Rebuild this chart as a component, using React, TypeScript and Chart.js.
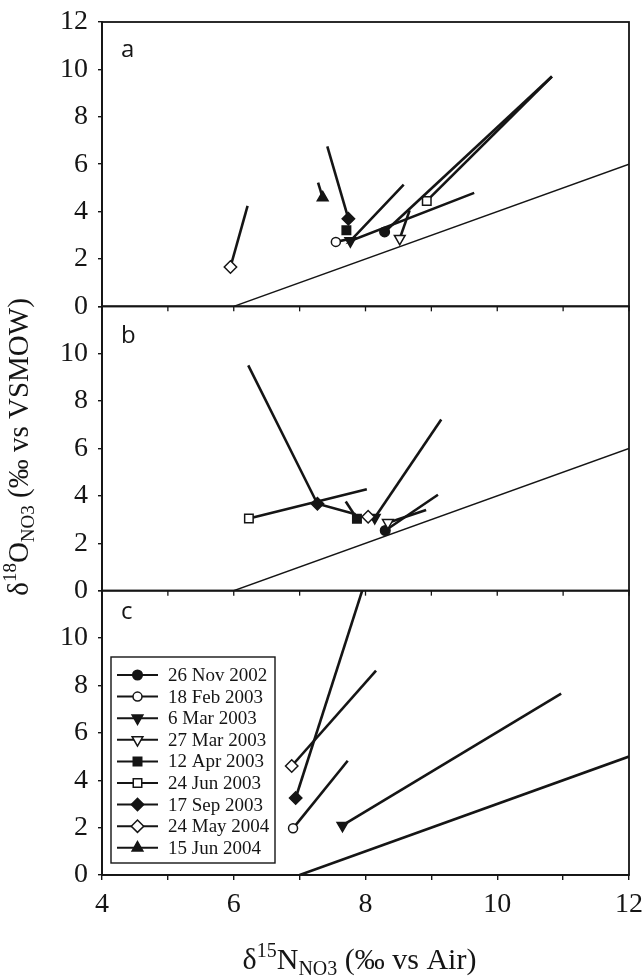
import React, { useEffect, useRef } from "react";
import { Chart, registerables } from "chart.js";
import { drawPoint } from "chart.js/helpers";

Chart.register(...registerables);

// ---------- DATA ----------
const DATES = [
  "26 Nov 2002",
  "18 Feb 2003",
  "6 Mar 2003",
  "27 Mar 2003",
  "12 Apr 2003",
  "24 Jun 2003",
  "17 Sep 2003",
  "24 May 2004",
  "15 Jun 2004",
];

const X_TICKS = [4, 5, 6, 7, 8, 9, 10, 11, 12];
const X_LABELS = [4, 6, 8, 10, 12];
const Y_TICKS = [0, 2, 4, 6, 8, 10, 12];

type Pt = [number, number];
type Traj = { d: number; m: Pt; ends: Pt[] };

// measured point (m) and trajectory end points, per panel
const PANEL_A: Traj[] = [
  { d: 7, m: [5.95, 1.66], ends: [[6.21, 4.24]] },
  { d: 8, m: [7.35, 4.59], ends: [[7.28, 5.22]] },
  { d: 6, m: [7.74, 3.7], ends: [[7.42, 6.75]] },
  { d: 4, m: [7.71, 3.21], ends: [] },
  { d: 1, m: [7.55, 2.72], ends: [[7.72, 2.82]] },
  { d: 2, m: [7.77, 2.76], ends: [[8.58, 5.14], [9.65, 4.79]] },
  { d: 0, m: [8.29, 3.14], ends: [[10.83, 9.7]] },
  { d: 3, m: [8.52, 2.86], ends: [[8.67, 4.05]] },
  { d: 5, m: [8.93, 4.45], ends: [[10.83, 9.7]] },
];
const PANEL_B: Traj[] = [
  { d: 5, m: [6.23, 3.05], ends: [[8.02, 4.28]] },
  { d: 6, m: [7.27, 3.67], ends: [[6.22, 9.51], [7.85, 3.22]] },
  { d: 4, m: [7.87, 3.04], ends: [[7.7, 3.76]] },
  { d: 7, m: [8.04, 3.12], ends: [] },
  { d: 2, m: [8.14, 3.08], ends: [[9.15, 7.22]] },
  { d: 3, m: [8.34, 2.87], ends: [[8.92, 3.4]] },
  { d: 0, m: [8.3, 2.54], ends: [[9.1, 4.05]] },
];
const PANEL_C: Traj[] = [
  { d: 7, m: [6.88, 4.6], ends: [[8.16, 8.63]] },
  { d: 6, m: [6.94, 3.25], ends: [[7.95, 12.0]] },
  { d: 1, m: [6.9, 1.97], ends: [[7.73, 4.82]] },
  { d: 2, m: [7.65, 2.09], ends: [[10.97, 7.65]] },
];

const REF_A: Pt[] = [[6, 0], [12, 6]];
const REF_B: Pt[] = [[6, 0], [12, 6]];
const REF_C: Pt[] = [[7, 0], [12, 5]];

// ---------- STYLES ----------
const INK = "#151515";
const MARKERS = [
  { style: "circle", fill: true, r: 4.8, rot: 0 },
  { style: "circle", fill: false, r: 4.5, rot: 0 },
  { style: "triangle", fill: true, r: 6.2, rot: 180 },
  { style: "triangle", fill: false, r: 6.2, rot: 180 },
  { style: "rect", fill: true, r: 6, rot: 0 },
  { style: "rect", fill: false, r: 6, rot: 0 },
  { style: "rectRot", fill: true, r: 6.2, rot: 0 },
  { style: "rectRot", fill: false, r: 6.2, rot: 0 },
  { style: "triangle", fill: true, r: 6.2, rot: 0 },
];

const SERIF = "'Liberation Serif', 'Times New Roman', serif";
const SANS = "'Open Sans', 'DejaVu Sans', sans-serif";

function trajDatasets(list: Traj[], axis: string) {
  return list.map((t) => {
    const pts: Pt[] =
      t.ends.length === 2 ? [t.ends[0], t.m, t.ends[1]] : t.ends.length === 1 ? [t.m, t.ends[0]] : [t.m];
    const mi = t.ends.length === 2 ? 1 : 0;
    const mk = MARKERS[t.d];
    return {
      label: DATES[t.d],
      yAxisID: axis,
      data: pts.map((p) => ({ x: p[0], y: p[1] })),
      showLine: true,
      borderColor: INK,
      borderWidth: 2.6,
      pointRadius: pts.map((_, i) => (i === mi ? mk.r : 0)),
      pointHoverRadius: pts.map((_, i) => (i === mi ? mk.r : 0)),
      pointStyle: mk.style,
      pointRotation: mk.rot,
      pointBackgroundColor: mk.fill ? INK : "#ffffff",
      pointBorderColor: INK,
      pointBorderWidth: 1.5,
      order: 1,
    };
  });
}

function refDataset(pts: Pt[], axis: string, width: number) {
  return {
    label: "ref",
    yAxisID: axis,
    data: pts.map((p) => ({ x: p[0], y: p[1] })),
    showLine: true,
    borderColor: INK,
    borderWidth: width,
    pointRadius: 0,
    pointHoverRadius: 0,
    order: 5,
  };
}

type Part = { t: string; s: number; dy: number };
function drawRich(ctx: CanvasRenderingContext2D, parts: Part[], cx: number, by: number) {
  const widths = parts.map((p) => {
    ctx.font = `${p.s}px ${SERIF}`;
    return ctx.measureText(p.t).width;
  });
  const total = widths.reduce((a, b) => a + b, 0);
  let x = cx - total / 2;
  ctx.textAlign = "left";
  ctx.textBaseline = "alphabetic";
  parts.forEach((p, i) => {
    ctx.font = `${p.s}px ${SERIF}`;
    ctx.fillText(p.t, x, by + p.dy);
    x += widths[i];
  });
}

const panelPlugin = {
  id: "panels",
  afterDraw(chart: any) {
    const ctx: CanvasRenderingContext2D = chart.ctx;
    const { left, right } = chart.chartArea;
    const axes = ["yA", "yB", "yC"].map((id) => chart.scales[id]);
    const xs = chart.scales.x;
    ctx.save();
    ctx.strokeStyle = INK;
    ctx.lineWidth = 1.8;
    axes.forEach((s: any) => ctx.strokeRect(left, s.top, right - left, s.bottom - s.top));
    // x tick marks below panels a and b
    ctx.lineWidth = 1.3;
    axes.slice(0, 2).forEach((s: any) => {
      X_TICKS.forEach((v) => {
        const px = xs.getPixelForValue(v);
        ctx.beginPath();
        ctx.moveTo(px, s.bottom);
        ctx.lineTo(px, s.bottom + 5);
        ctx.stroke();
      });
    });
    // panel letters
    ctx.fillStyle = INK;
    ctx.font = `24px ${SANS}`;
    ctx.textAlign = "left";
    ctx.textBaseline = "alphabetic";
    const letterOffsets = [35, 37, 28];
    ["a", "b", "c"].forEach((l, i) => ctx.fillText(l, left + 19, axes[i].top + letterOffsets[i]));

    // legend (in panel c)
    const lx = 111,
      ly = 657,
      lw = 164,
      lh = 206;
    ctx.lineWidth = 1.4;
    ctx.strokeRect(lx, ly, lw, lh);
    ctx.font = `19px ${SERIF}`;
    ctx.textBaseline = "middle";
    DATES.forEach((d, i) => {
      const y = ly + 18 + i * 21.6;
      ctx.lineWidth = 2;
      ctx.strokeStyle = INK;
      ctx.beginPath();
      ctx.moveTo(lx + 6, y);
      ctx.lineTo(lx + 47, y);
      ctx.stroke();
      const mk = MARKERS[i];
      ctx.fillStyle = mk.fill ? INK : "#ffffff";
      ctx.strokeStyle = INK;
      ctx.lineWidth = 1.5;
      drawPoint(ctx, { pointStyle: mk.style as any, rotation: mk.rot, radius: mk.r, borderWidth: 1.5 }, lx + 26.5, y);
      ctx.fillStyle = INK;
      ctx.fillText(d, lx + 57, y + 1);
    });

    // axis titles
    ctx.fillStyle = INK;
    drawRich(
      ctx,
      [
        { t: "δ", s: 30, dy: 0 },
        { t: "15", s: 20, dy: -12 },
        { t: "N", s: 30, dy: 0 },
        { t: "NO3", s: 20, dy: 6 },
        { t: " (‰ vs Air)", s: 30, dy: 0 },
      ],
      (left + right) / 2 - 6,
      969
    );
    ctx.translate(28, 447);
    ctx.rotate(-Math.PI / 2);
    drawRich(
      ctx,
      [
        { t: "δ", s: 29, dy: 0 },
        { t: "18", s: 19, dy: -12 },
        { t: "O", s: 29, dy: 0 },
        { t: "NO3", s: 19, dy: 6 },
        { t: " (‰ vs VSMOW)", s: 29, dy: 0 },
      ],
      0,
      0
    );
    ctx.restore();
  },
};

function yAxis(showTop: boolean) {
  return {
    type: "linear",
    position: "left",
    stack: "panels",
    stackWeight: 1,
    min: 0,
    max: 12,
    afterBuildTicks: (s: any) => {
      s.ticks = Y_TICKS.map((v) => ({ value: v }));
    },
    afterFit: (s: any) => {
      s.width = 102;
      s.paddingTop = 0;
      s.paddingBottom = 0;
    },
    ticks: {
      padding: 10,
      color: INK,
      autoSkip: false,
      font: { family: SERIF, size: 28 },
      callback: (v: number) => (v === 12 && !showTop ? "" : String(v)),
    },
    grid: { drawOnChartArea: false, tickLength: 4, color: INK, lineWidth: 1.4 },
    border: { color: INK, width: 1.8 },
  };
}

export default function App() {
  const ref = useRef<HTMLCanvasElement>(null);
  useEffect(() => {
    const datasets: any[] = [
      ...trajDatasets(PANEL_A, "yA"),
      ...trajDatasets(PANEL_B, "yB"),
      ...trajDatasets(PANEL_C, "yC"),
      refDataset(REF_A, "yA", 1.5),
      refDataset(REF_B, "yB", 1.5),
      refDataset(REF_C, "yC", 2.6),
    ];
    const chart = new Chart(ref.current as HTMLCanvasElement, {
      type: "scatter",
      data: { datasets },
      options: {
        animation: false,
        responsive: false,
        maintainAspectRatio: false,
        layout: { padding: { left: 0, right: 15, top: 22, bottom: 41 } },
        plugins: { legend: { display: false }, tooltip: { enabled: false } },
        scales: {
          x: {
            type: "linear",
            position: "bottom",
            min: 4,
            max: 12,
            afterBuildTicks: (s: any) => {
              s.ticks = X_TICKS.map((v) => ({ value: v }));
            },
            afterFit: (s: any) => {
              s.height = 60;
              s.paddingLeft = 0;
              s.paddingRight = 0;
            },
            ticks: {
              padding: 8,
              color: INK,
              autoSkip: false,
              maxRotation: 0,
              font: { family: SERIF, size: 28 },
              callback: (v: number) => (X_LABELS.includes(v) ? String(v) : ""),
            },
            grid: { drawOnChartArea: false, tickLength: 5, color: INK, lineWidth: 1.4 },
            border: { color: INK, width: 1.8 },
          },
          // stacked axes are laid out bottom-up in definition order
          yC: yAxis(false),
          yB: yAxis(false),
          yA: yAxis(true),
        } as any,
      },
      plugins: [panelPlugin],
    } as any);
    return () => chart.destroy();
  }, []);
  return (
    <div style={{ position: "absolute", left: 0, top: 0, width: 644, height: 976, background: "#ffffff" }}>
      <canvas ref={ref} width={644} height={976} style={{ display: "block", width: 644, height: 976 }} />
    </div>
  );
}
